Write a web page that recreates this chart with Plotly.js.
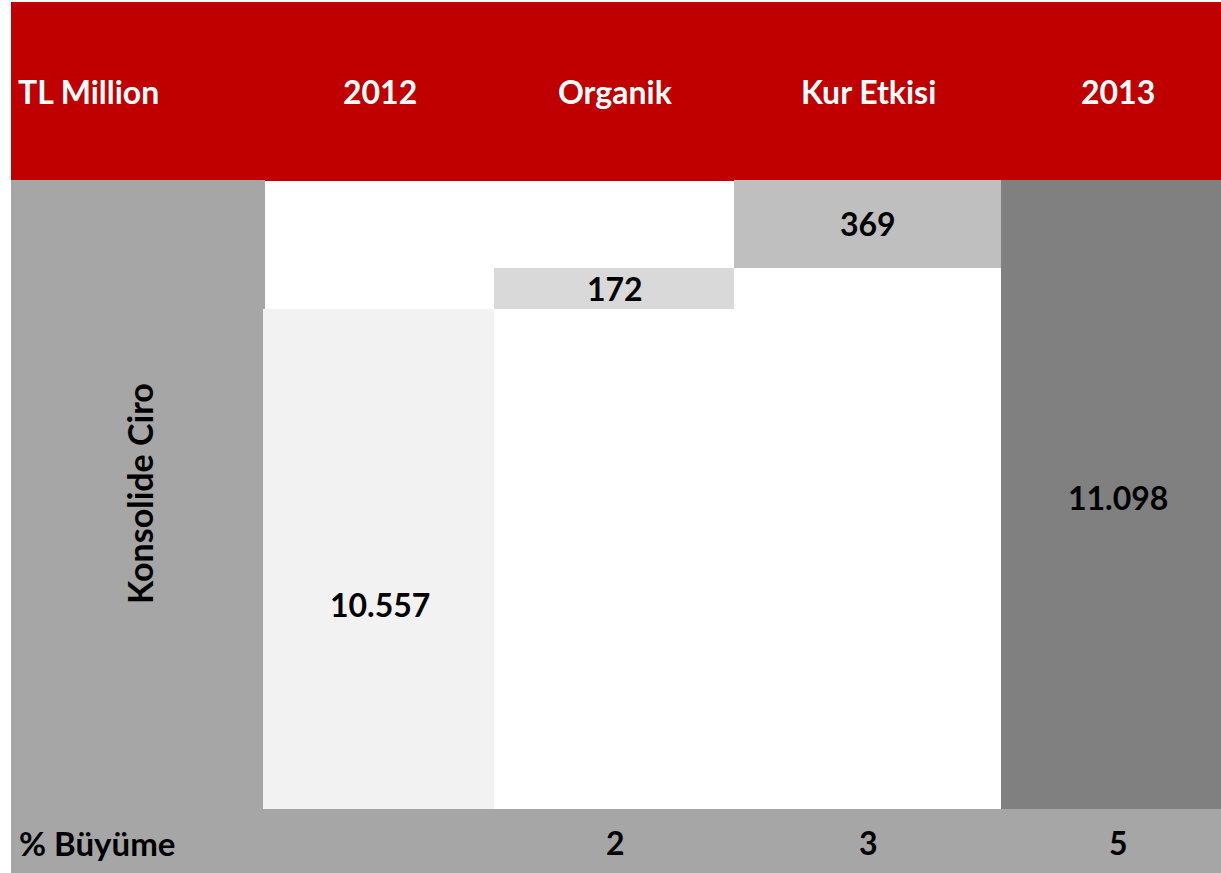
<!DOCTYPE html>
<html>
<head>
<meta charset="utf-8">
<script src="https://cdn.plot.ly/plotly-3.0.1.min.js"></script>
<style>html,body{margin:0;padding:0;background:#fff;}#chart{width:1221px;height:873px;}</style>
</head>
<body>
<div id="chart"></div>
<script>
// ---- data ----
const cornerLabel = "TL Million";
const rowLabel = "Konsolide Ciro";
const growthLabel = "% Büyüme";
const categories = ["2012", "Organik", "Kur Etkisi", "2013"];
const values = [10557, 172, 369, 11098];
const kinds = ["total", "delta", "delta", "total"];
const growth = [null, 2, 3, 5];

// ---- styles ----
const barColors = ["#f2f2f2", "#d9d9d9", "#bfbfbf", "#808080"];
const RED = "#c00000", GRAY = "#a6a6a6";
const FONT = "Lato, 'Open Sans', sans-serif";
const W = 1221, H = 873, L = 263, T = 180, B = 64;
const plotW = W - L, plotH = H - T - B;
const colEdges = [263, 494, 734, 1001, 1221];
const labelCenters = [380, 615, 868, 1118];
const px2x = p => (p - L) / plotW;
const px2y = p => (H - B - p) / plotH;

// waterfall bases
const bases = [];
let running = 0;
values.forEach((v, i) => {
  if (kinds[i] === "total") { bases.push(0); running = v; }
  else { bases.push(running); running += v; }
});

const unit = plotW / categories.length;
const widths = categories.map((c, i) => (colEdges[i + 1] - colEdges[i]) / unit);
const offsets = categories.map((c, i) => (colEdges[i] - L) / unit - 0.5 - i);

const fmt = v => String(v).replace(/\B(?=(\d{3})+(?!\d))/g, ".");

const trace = {
  type: "bar",
  x: categories,
  y: values,
  base: bases,
  width: widths,
  offset: offsets,
  marker: { color: barColors, line: { width: 0 } },
  hoverinfo: "skip",
  showlegend: false
};

const fontBlack = { family: FONT, size: 32, color: "#000", weight: 700 };
const fontWhite = { family: FONT, size: 32, color: "#fff", weight: 700 };

const annotations = [];
// header
annotations.push({ xref: "paper", yref: "paper", x: px2x(16), y: px2y(92), xanchor: "left", yanchor: "middle",
  text: cornerLabel, showarrow: false, font: fontWhite });
categories.forEach((c, i) => {
  annotations.push({ xref: "paper", yref: "paper", x: px2x(labelCenters[i]), y: px2y(92),
    xanchor: "center", yanchor: "middle", text: c, showarrow: false, font: fontWhite });
});
// value labels
const bigLabelY = [604, null, null, 497];
categories.forEach((c, i) => {
  const a = { xref: "paper", x: px2x(labelCenters[i]), xanchor: "center", yanchor: "middle",
    text: fmt(values[i]), showarrow: false, font: fontBlack };
  if (kinds[i] === "total") { a.yref = "paper"; a.y = px2y(bigLabelY[i]); }
  else { a.yref = "y"; a.y = bases[i] + values[i] / 2; }
  annotations.push(a);
});
// row label
annotations.push({ xref: "paper", yref: "paper", x: px2x(139), y: px2y(494), xanchor: "center", yanchor: "middle",
  text: rowLabel, textangle: -90, showarrow: false, font: Object.assign({}, fontBlack, { size: 34 }) });
// growth row
annotations.push({ xref: "paper", yref: "paper", x: px2x(17), y: px2y(843), xanchor: "left", yanchor: "middle",
  text: growthLabel, showarrow: false, font: Object.assign({}, fontBlack, { size: 33 }) });
growth.forEach((g, i) => {
  if (g === null) return;
  annotations.push({ xref: "paper", yref: "paper", x: px2x(labelCenters[i]), y: px2y(843),
    xanchor: "center", yanchor: "middle", text: String(g), showarrow: false, font: fontBlack });
});

const shapes = [
  { type: "rect", xref: "paper", yref: "paper", x0: px2x(11), x1: px2x(W + 2), y0: px2y(181), y1: px2y(2),
    fillcolor: RED, line: { width: 0 }, layer: "below" },
  { type: "rect", xref: "paper", yref: "paper", x0: px2x(11), x1: px2x(265), y0: px2y(809), y1: px2y(180),
    fillcolor: GRAY, line: { width: 0 }, layer: "below" },
  { type: "rect", xref: "paper", yref: "paper", x0: px2x(11), x1: px2x(W + 2), y0: px2y(H + 2), y1: px2y(809),
    fillcolor: GRAY, line: { width: 0 }, layer: "below" }
];

const layout = {
  width: W, height: H,
  margin: { l: L, r: 0, t: T, b: B, pad: 0 },
  paper_bgcolor: "#ffffff",
  plot_bgcolor: "#ffffff",
  xaxis: { type: "category", range: [-0.5, categories.length - 0.5], visible: false, fixedrange: true },
  yaxis: { range: [8460, 11098], visible: false, fixedrange: true },
  showlegend: false,
  hovermode: false,
  annotations: annotations,
  shapes: shapes
};

Plotly.newPlot("chart", [trace], layout, { displayModeBar: false, staticPlot: true });
</script>
</body>
</html>
